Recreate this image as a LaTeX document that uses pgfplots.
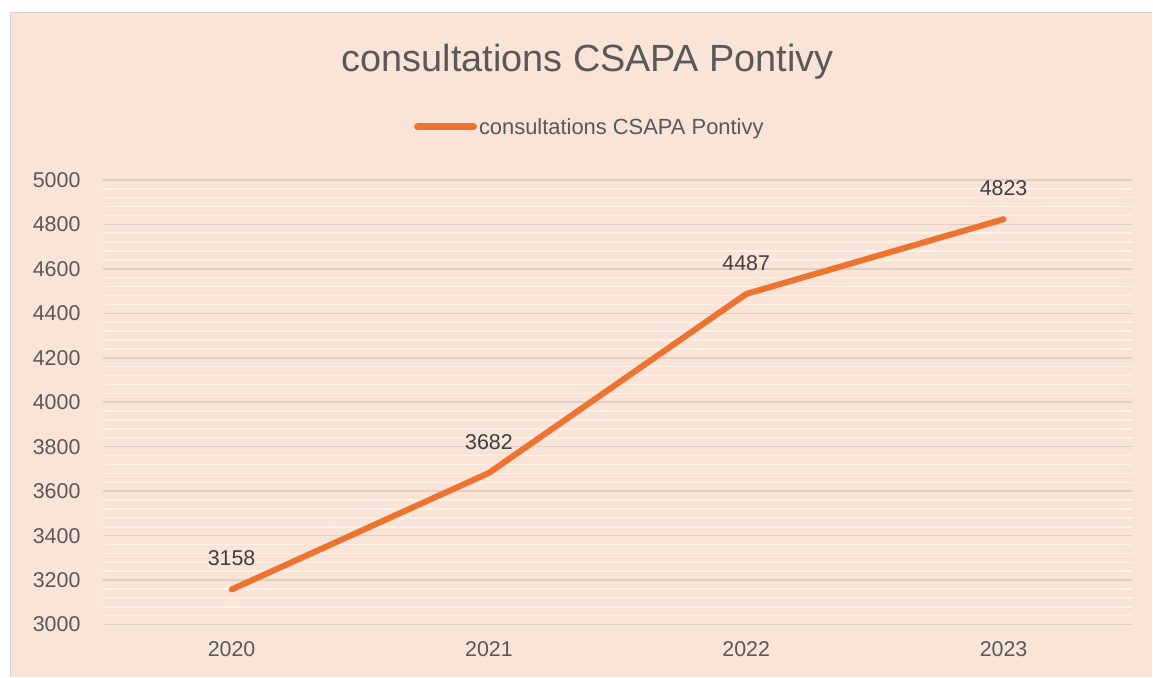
\documentclass[border=0pt]{standalone}
\usepackage{pgfplots}
\pgfplotsset{compat=1.18}
\usepackage{fontspec}
\setmainfont{Liberation Sans}
\definecolor{bg}{HTML}{FAE3D7}
\definecolor{frame}{HTML}{D9D2CF}
\definecolor{major}{HTML}{DDCFC6}
\definecolor{minor}{HTML}{FFF1E8}
\definecolor{ln}{HTML}{EC7330}
\definecolor{tx}{HTML}{595959}
\definecolor{lbl}{HTML}{404040}
\begin{document}
\begin{tikzpicture}[x=1bp,y=1bp]
\fill[white] (0,0) rectangle (1153,677);
\fill[bg] (10,0) rectangle (1153,665);
\draw[frame, line width=1.5bp] (10.5,0) -- (10.5,664.5) -- (1153,664.5);
\node[font=\fontsize{38}{44}\selectfont, text=tx] at (588,615) {consultations CSAPA Pontivy};
\begin{axis}[
  at={(103bp,52bp)}, anchor=south west,
  scale only axis, width=1030bp, height=445bp,
  xmin=-0.5, xmax=3.5, ymin=3000, ymax=5000,
  xtick={0,1,2,3}, xticklabels={2020,2021,2022,2023},
  ytick={3000,3200,...,5000},
  minor y tick num=4,
  ymajorgrids, yminorgrids,
  major grid style={draw=major, line width=1.5bp},
  minor grid style={draw=minor, line width=1.5bp},
  axis line style={draw=none},
  major tick length=0pt, minor tick length=0pt,
  tick label style={font=\fontsize{21.5}{26}\selectfont, text=tx},
  yticklabel style={xshift=-19bp},
  xticklabel style={yshift=-13bp},
  /pgf/number format/assume math mode=true,
  /pgf/number format/1000 sep={},
  nodes near coords,
  nodes near coords style={font=\fontsize{21.5}{26}\selectfont, text=lbl, anchor=south, yshift=17bp, /pgf/number format/1000 sep={}},
  legend style={at={(0.473,1.119)}, anchor=center, draw=none, fill=none, font=\fontsize{22}{26}\selectfont, text=tx, inner sep=0pt},
  legend image code/.code={\draw[#1, line cap=round, line width=7bp] (0bp,0bp) -- (56bp,0bp);},
  clip=false,
]
\addplot[ln, line width=6bp, line cap=round, line join=round, mark=none] coordinates {(0,3158) (1,3682) (2,4487) (3,4823)};
\addlegendentry{consultations CSAPA Pontivy}
\end{axis}
\end{tikzpicture}
\end{document}
